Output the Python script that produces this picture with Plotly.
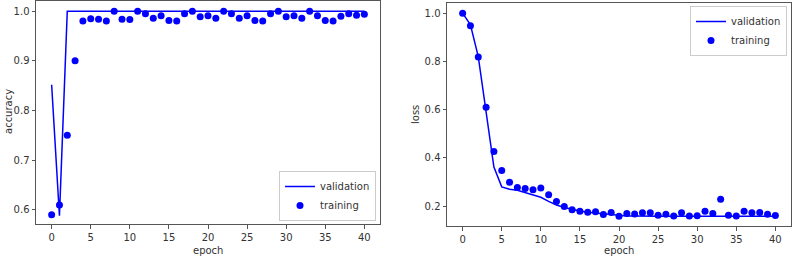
import plotly.graph_objects as go

epochs = list(range(41))

acc_train = [0.59, 0.61, 0.75, 0.90, 0.98, 0.985, 0.984, 0.98, 1.0, 0.984,
             0.983, 1.0, 0.995, 0.986, 0.991, 0.981, 0.98, 0.995, 1.0, 0.989,
             0.991, 0.986, 1.0, 0.995, 0.986, 0.991, 0.981, 0.98, 0.995, 1.0,
             0.989, 0.991, 0.986, 1.0, 0.991, 0.981, 0.98, 0.99, 0.995, 0.992,
             0.994]
acc_val = [0.852, 0.588] + [1.0] * 39

loss_train = [1.0, 0.948, 0.818, 0.61, 0.427, 0.348, 0.299, 0.278, 0.273, 0.268,
              0.275, 0.248, 0.22, 0.199, 0.185, 0.179, 0.175, 0.177, 0.166, 0.174,
              0.158, 0.17, 0.168, 0.173, 0.173, 0.163, 0.167, 0.159, 0.173, 0.159,
              0.16, 0.179, 0.17, 0.229, 0.163, 0.159, 0.179, 0.173, 0.174, 0.167,
              0.162]
loss_val = [1.0, 0.952, 0.82, 0.6, 0.362, 0.28, 0.27, 0.266, 0.257, 0.247,
            0.237, 0.22, 0.205, 0.195, 0.187, 0.18, 0.175, 0.172, 0.168, 0.164,
            0.16, 0.159, 0.159, 0.158, 0.158, 0.158, 0.158, 0.158, 0.158, 0.158,
            0.158, 0.158, 0.158, 0.158, 0.158, 0.158, 0.158, 0.158, 0.158, 0.158,
            0.158]

x_ticks = [0, 5, 10, 15, 20, 25, 30, 35, 40]
acc_ticks = [0.6, 0.7, 0.8, 0.9, 1.0]
loss_ticks = [0.2, 0.4, 0.6, 0.8, 1.0]

BLUE = "#0000ff"
FRAME = "#555555"
FONT = dict(family="DejaVu Sans", size=10, color="#333333")
W, H = 793, 258

fig = go.Figure()
fig.add_trace(go.Scatter(x=epochs, y=acc_val, mode="lines", name="validation",
                         line=dict(color=BLUE, width=1.5), xaxis="x", yaxis="y",
                         legend="legend"))
fig.add_trace(go.Scatter(x=epochs, y=acc_train, mode="markers", name="training",
                         marker=dict(color=BLUE, size=7), xaxis="x", yaxis="y",
                         legend="legend"))
fig.add_trace(go.Scatter(x=epochs, y=loss_val, mode="lines", name="validation",
                         line=dict(color=BLUE, width=1.5), xaxis="x2", yaxis="y2",
                         legend="legend2"))
fig.add_trace(go.Scatter(x=epochs, y=loss_train, mode="markers", name="training",
                         marker=dict(color=BLUE, size=7), xaxis="x2", yaxis="y2",
                         legend="legend2"))

axis_common = dict(showgrid=False, zeroline=False, showline=True, mirror=True,
                   linecolor=FRAME, linewidth=1, ticks="outside", ticklen=3.5,
                   tickcolor=FRAME, tickwidth=1, tickfont=FONT)

def px_x(p):
    return p / W

def px_y(p):
    return 1 - p / H

fig.update_layout(
    width=W, height=H,
    margin=dict(l=0, r=0, t=0, b=0),
    paper_bgcolor="white", plot_bgcolor="white",
    font=FONT,
    xaxis=dict(domain=[px_x(36), px_x(380)], range=[-2, 42], tickvals=x_ticks,
               anchor="y", **axis_common),
    yaxis=dict(domain=[px_y(224), px_y(1)], range=[0.5715, 1.0205], tickvals=acc_ticks,
               tickformat=".1f", anchor="x", **axis_common),
    xaxis2=dict(domain=[px_x(447), px_x(791)], range=[-2, 42], tickvals=x_ticks,
                anchor="y2", **axis_common),
    yaxis2=dict(domain=[px_y(226), px_y(3)], range=[0.118, 1.042], tickvals=loss_ticks,
                tickformat=".1f", anchor="x2", **axis_common),
    legend=dict(x=px_x(376), y=px_y(221), xanchor="right", yanchor="bottom",
                bgcolor="rgba(255,255,255,0.8)", bordercolor="#cccccc", borderwidth=1,
                font=FONT, itemwidth=30, tracegroupgap=0),
    legend2=dict(x=px_x(787), y=px_y(6), xanchor="right", yanchor="top",
                 bgcolor="rgba(255,255,255,0.8)", bordercolor="#cccccc", borderwidth=1,
                 font=FONT, itemwidth=30, tracegroupgap=0),
    showlegend=True,
)

fig.add_annotation(text="epoch", x=(px_x(36) + px_x(380)) / 2, y=px_y(250),
                   xref="paper", yref="paper", showarrow=False, font=FONT,
                   xanchor="center", yanchor="middle")
fig.add_annotation(text="epoch", x=(px_x(447) + px_x(791)) / 2, y=px_y(250),
                   xref="paper", yref="paper", showarrow=False, font=FONT,
                   xanchor="center", yanchor="middle")
fig.add_annotation(text="accuracy", x=px_x(8), y=px_y(112), xref="paper", yref="paper",
                   showarrow=False, font=FONT, textangle=-90,
                   xanchor="center", yanchor="middle")
fig.add_annotation(text="loss", x=px_x(415), y=px_y(115), xref="paper", yref="paper",
                   showarrow=False, font=FONT, textangle=-90,
                   xanchor="center", yanchor="middle")

fig.write_html("out.html", config={"displayModeBar": False},
               post_script="document.body.style.margin='0';document.body.style.overflow='hidden';")
